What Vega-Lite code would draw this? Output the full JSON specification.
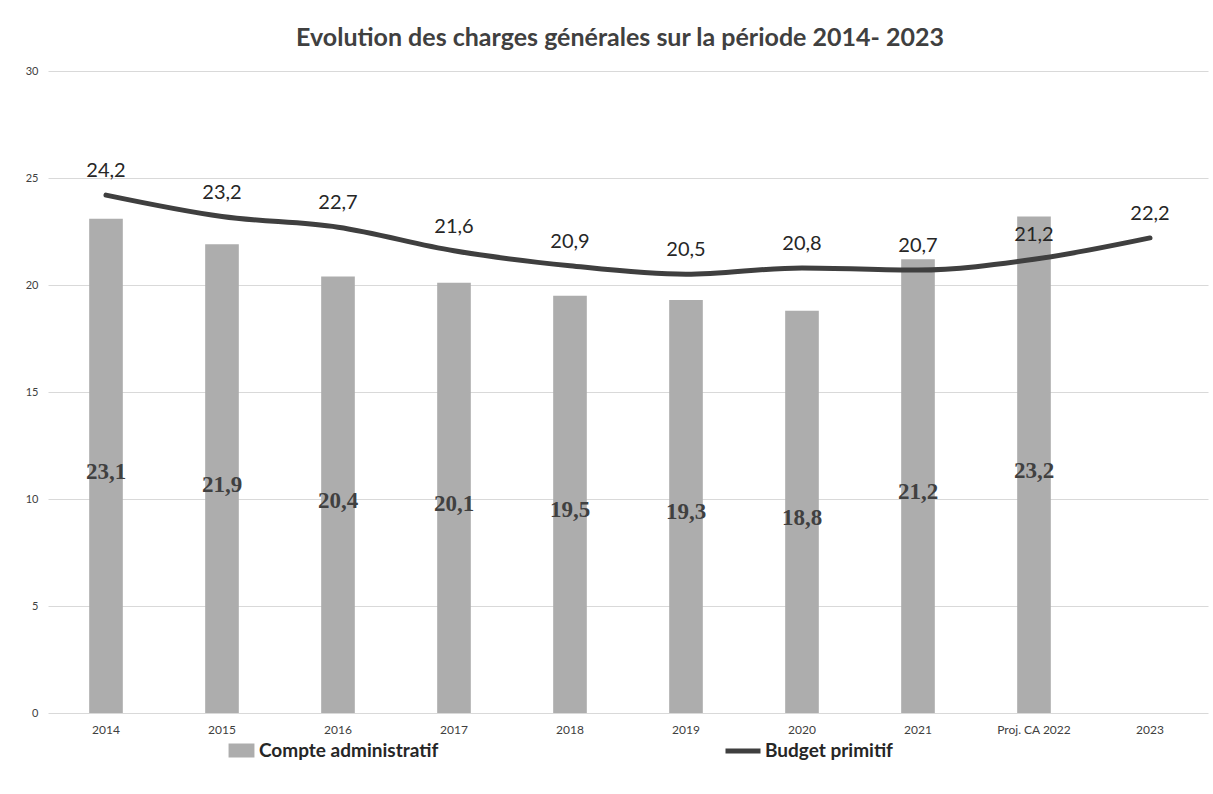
{
  "$schema": "https://vega.github.io/schema/vega-lite/v6.json",
  "width": 1160,
  "height": 642,
  "autosize": {"type": "none"},
  "padding": {"left": 48, "top": 71, "right": 5, "bottom": 81},
  "background": "white",
  "title": {
    "text": "Evolution des charges générales sur la période 2014- 2023",
    "font": "Lato",
    "fontSize": 25,
    "fontWeight": "bold",
    "color": "#404040",
    "anchor": "middle",
    "dx": -8,
    "offset": 14
  },
  "config": {
    "locale": {"number": {"decimal": ",", "thousands": " ", "grouping": [3], "currency": ["", " €"]}},
    "view": {"stroke": null},
    "axis": {"labelFont": "Lato", "labelColor": "#404040", "labelFontSize": 12, "gridColor": "#d9d9d9", "domain": false, "ticks": false},
    "legend": {"labelFont": "Lato", "labelFontSize": 19, "labelFontWeight": "bold", "labelColor": "#262626", "labelLimit": 400}
  },
  "data": {
    "values": [
      {"annee": "2014", "ca": 23.1, "bp": 24.2},
      {"annee": "2015", "ca": 21.9, "bp": 23.2},
      {"annee": "2016", "ca": 20.4, "bp": 22.7},
      {"annee": "2017", "ca": 20.1, "bp": 21.6},
      {"annee": "2018", "ca": 19.5, "bp": 20.9},
      {"annee": "2019", "ca": 19.3, "bp": 20.5},
      {"annee": "2020", "ca": 18.8, "bp": 20.8},
      {"annee": "2021", "ca": 21.2, "bp": 20.7},
      {"annee": "Proj. CA 2022", "ca": 23.2, "bp": 21.2},
      {"annee": "2023", "ca": null, "bp": 22.2}
    ]
  },
  "encoding": {
    "x": {
      "field": "annee", "type": "nominal", "sort": null,
      "scale": {"paddingInner": 0.71, "paddingOuter": 0.355},
      "axis": {"title": null, "labelAngle": 0, "labelPadding": 11, "grid": false}
    }
  },
  "layer": [
    {
      "mark": {"type": "bar", "color": "#adadad"},
      "encoding": {
        "y": {
          "field": "ca", "type": "quantitative",
          "scale": {"domain": [0, 30]},
          "axis": {"title": null, "values": [0, 5, 10, 15, 20, 25, 30], "labelPadding": 10, "grid": true, "labelFontSize": 11}
        },
        "fill": {
          "datum": "Compte administratif", "type": "nominal",
          "scale": {"range": ["#adadad"]},
          "legend": {
            "title": null, "orient": "none", "legendX": 184, "legendY": 670,
            "symbolType": "M-1.85,-1L1.85,-1L1.85,1L-1.85,1Z", "symbolSize": 196,
            "symbolStrokeWidth": 0, "labelOffset": 8
          }
        }
      }
    },
    {
      "transform": [{"filter": "datum.ca != null"}, {"calculate": "datum.ca / 2", "as": "mid"}],
      "mark": {"type": "text", "font": "Liberation Serif", "fontSize": 23, "fontWeight": "bold", "color": "#404040", "dy": 6},
      "encoding": {
        "y": {"field": "mid", "type": "quantitative"},
        "text": {"field": "ca", "type": "quantitative", "format": ".1f"}
      }
    },
    {
      "mark": {"type": "line", "interpolate": "monotone", "strokeWidth": 5, "strokeCap": "round"},
      "encoding": {
        "y": {"field": "bp", "type": "quantitative"},
        "stroke": {
          "datum": "Budget primitif", "type": "nominal",
          "scale": {"range": ["#3f3f3f"]},
          "legend": {
            "title": null, "orient": "none", "legendX": 675, "legendY": 660,
            "symbolType": "stroke", "symbolSize": 1225, "symbolStrokeWidth": 5, "labelOffset": 2
          }
        }
      }
    },
    {
      "mark": {"type": "text", "font": "Lato", "fontSize": 20, "color": "#262626", "dy": -24},
      "encoding": {
        "y": {"field": "bp", "type": "quantitative"},
        "text": {"field": "bp", "type": "quantitative", "format": ".1f"}
      }
    }
  ]
}
